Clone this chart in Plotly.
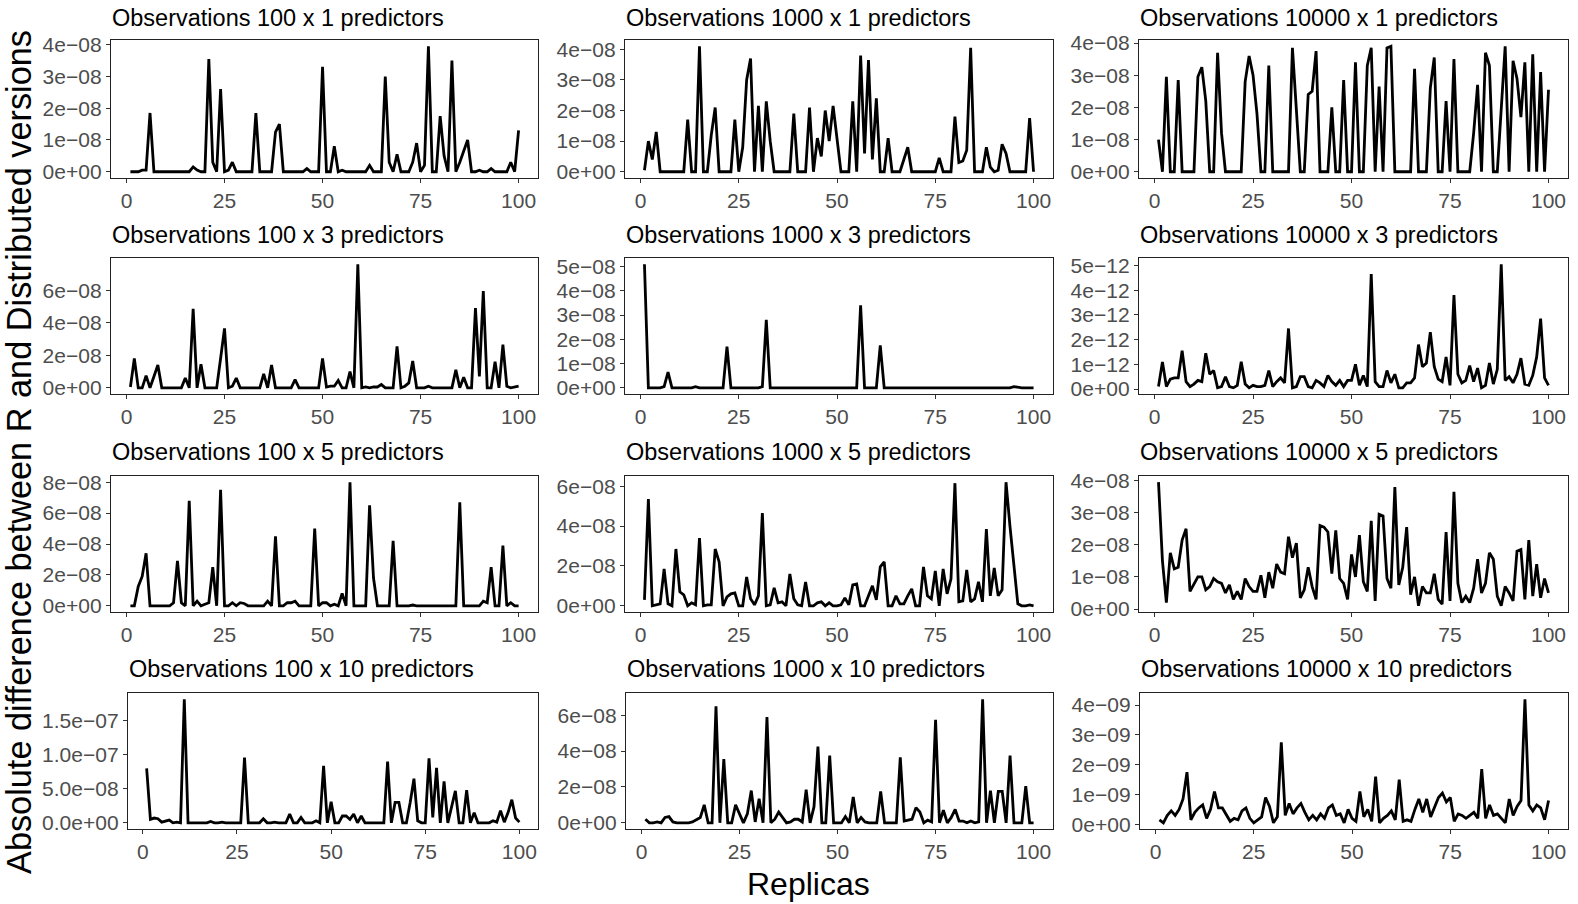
import plotly.graph_objects as go

replicas = list(range(1, 101))

# values are in units of 10^exponent (see UNIT_EXP)
obs100_p1 = [0,0,0,0.05,0.05,1.85,0,0,0,0,
             0,0,0,0,0,0,0.15,0.05,0,0,
             3.55,0.3,0,2.6,0,0.05,0.3,0,0,0,
             0,0,1.85,0,0,0,0,1.25,1.5,0,
             0,0,0,0,0,0.1,0,0,0,3.3,
             0,0,0.8,0,0.05,0,0,0,0,0,
             0,0.2,0,0,0,3.0,0.3,0,0.55,0,
             0,0,0.3,0.9,0,0.2,3.95,0,0,1.75,
             0.5,0,3.5,0,0.3,0.65,1.0,0,0,0.05,
             0,0,0.1,0,0,0,0,0.3,0,1.3]
obs1000_p1 = [0.05,1.0,0.4,1.3,0,0,0,0,0,0,
              0,1.7,0,0,4.1,0,0,1.2,2.1,0,
              0,0,0,1.7,0,0.8,3.0,3.7,0,2.15,
              0,2.3,1.0,0,0,0,0,0,1.9,0,
              0,0,2.1,0,1.1,0.5,2.0,1.0,2.15,1.0,
              0,0,0,2.3,0,3.8,0.6,3.65,0.4,2.4,
              0,0,1.1,0,0,0,0.4,0.8,0,0,
              0,0,0,0,0,0.45,0,0,0,1.8,
              0.3,0.35,0.7,4.05,0,0,0,0.8,0.15,0,
              0.05,0.9,0.6,0,0,0,0,0,1.75,0]
obs10000_p1 = [1.0,0,2.95,0,0,2.85,0,0,0,0,
               2.95,3.25,2.2,0,0,3.7,1.2,0,0,0,
               0,0,2.8,3.6,3.0,1.8,0,0,3.3,0,
               0,0,0,0,3.85,2.0,0,0,2.4,2.5,
               3.75,0,0,0,2.0,0,0,2.85,0,0,
               3.4,0,0,3.3,3.85,0,2.65,0,3.85,3.9,
               0,0,0,0,0,3.2,0,0,0,2.6,
               3.55,0,0,2.2,0,3.5,0,0,0,0,
               1.2,2.7,0,3.7,3.3,0,0,1.8,3.9,0,
               3.45,2.9,1.7,3.4,0,3.65,0,3.1,0,2.55]
obs100_p3 = [0.05,1.8,0,0,0.75,0,0.7,1.4,0,0,
             0,0,0,0,0.6,0,4.85,0,1.45,0,
             0,0,0,1.8,3.65,0,0.1,0.6,0,0,
             0,0,0,0,0.85,0,1.4,0,0,0,
             0,0,0.5,0,0,0,0,0,0,1.8,
             0.05,0.1,0.1,0.45,0,0,1.0,0,7.6,0,
             0.05,0,0.05,0.05,0.2,0,0,0,2.55,0,
             0.1,0.3,1.65,0,0,0,0.1,0,0,0,
             0,0,0,1.1,0,0.65,0,0,4.9,0.7,
             5.95,0,0,1.6,0,2.65,0.1,0,0.05,0.1]
obs1000_p3 = [5.1,0,0,0,0,0.05,0.65,0,0,0,
              0,0,0,0.05,0,0,0,0,0,0,
              0,1.7,0,0,0,0,0,0.02,0,0,
              0.05,2.8,0,0,0,0,0,0,0,0,
              0,0,0,0.02,0,0,0,0,0,0,
              0,0,0,0,0,3.4,0,0,0,0,
              1.75,0,0,0,0,0,0,0,0,0,
              0,0,0,0,0,0,0,0,0,0,
              0,0,0,0,0,0,0,0,0,0,
              0,0,0,0,0.05,0.02,0,0,0,0]
obs10000_p3 = [0.1,1.1,0.1,0.4,0.45,0.45,1.55,0.3,0.1,0.2,
               0.35,0.3,1.45,0.6,0.75,0.05,0.1,0.5,0.1,0.05,
               0.15,1.1,0.2,0.05,0.15,0.1,0.1,0.15,0.75,0.1,
               0.3,0.45,0.25,2.45,0.05,0.1,0.5,0.5,0.1,0.05,
               0.35,0.25,0.1,0.55,0.3,0.15,0.35,0.1,0.35,0.35,
               1.0,0.15,0.55,0.1,4.65,0.3,0.1,0.1,0.75,0.25,
               0.6,0.05,0.05,0.25,0.25,0.45,1.8,0.9,1.05,2.3,
               0.9,0.4,0.3,1.3,0.15,3.8,0.6,0.25,0.35,0.95,
               0.3,0.85,0.05,0.15,1.05,0.2,0.8,5.05,0.35,0.5,
               0.25,0.6,1.25,0.2,0.15,0.55,1.3,2.85,0.45,0.15]
obs100_p5 = [0,0,1.25,1.9,3.4,0,0,0,0,0,
             0,0.2,2.9,0.2,0,6.8,0,0.3,0,0.1,
             0.2,2.5,0,7.5,0,0,0.2,0,0.2,0.15,
             0,0,0,0,0,0.3,0,4.5,0,0,
             0.2,0.2,0.3,0,0,0,0,5.0,0,0.2,
             0.2,0,0.1,0,0.8,0,8.0,0,0,0,
             0,6.5,1.8,0,0,0,0,4.2,0,0,
             0,0,0.05,0,0,0,0,0,0,0,
             0,0,0,0,6.7,0,0,0,0,0,
             0.3,0.2,2.5,0,0,3.9,0,0.2,0,0]
obs1000_p5 = [0.3,5.35,0,0.05,0.1,1.85,0.1,0,2.85,0.7,
              0.55,0,0.15,0.05,3.4,0,0.05,0.05,2.85,2.2,
              0,0.45,0.6,0.65,0,0,1.45,0.35,0.05,0.5,
              4.65,0,0.05,0.9,0.15,0.2,0,1.6,0.35,0.05,
              0,1.2,0,0,0.15,0.2,0,0.15,0,0,
              0.05,0.4,0.05,1.05,1.1,0,0,0.5,1.0,0.3,
              1.95,2.2,0,0,0.5,0.1,0.1,0.5,0.85,0,
              0,1.95,0.5,0.35,1.75,0,1.85,0.6,1.35,6.15,
              0.2,0.25,1.8,0.2,0.35,1.2,0.2,3.85,0.5,1.9,
              0.5,0.8,6.2,4.0,1.9,0.1,0,0,0.05,0]
obs10000_p5 = [3.95,1.5,0.2,1.75,1.25,1.3,2.15,2.5,0.55,0.8,
               1.0,1.0,0.6,0.7,0.95,0.85,0.8,0.5,0.75,0.3,
               0.55,0.3,0.95,0.7,0.55,0.55,1.05,0.35,1.15,0.65,
               1.4,1.15,1.1,2.25,1.6,2.05,0.35,0.6,1.3,0.7,
               0.3,2.6,2.55,2.4,1.1,2.45,0.95,0.8,0.3,1.7,
               1.0,2.3,0.85,0.55,2.75,0.25,2.95,2.9,0.95,0.65,
               3.8,0.75,1.3,2.55,0.45,1.0,0.1,0.7,0.5,0.5,
               1.1,0.3,0.15,2.4,0.25,3.65,0.8,0.2,0.4,0.2,
               0.65,1.55,0.5,0.8,1.75,1.55,0.4,0.1,0.7,0.5,
               0.25,1.8,1.85,0.3,2.15,0.4,1.4,0.35,0.95,0.5]
obs100_p10 = [8.0,0.5,0.7,0.6,0.1,0.2,0.4,0,0.1,0,
              18.2,0,0,0,0,0,0,0.2,0,0,
              0.1,0,0,0,0,0,9.6,0,0,0,
              0,0.6,0,0,0.1,0,0,0,1.3,0,
              0,0.8,0,0,0,0.3,0,8.4,0,3.1,
              0,0,1.0,1.0,0.5,1.3,0,1.0,0,0,
              0,0,0,0,9.0,0,3.0,3.0,0,0,
              3.0,6.5,0.3,0,0,9.5,0.8,8.1,0,6.1,
              0,2.5,4.7,0,0,4.8,0,1.5,0,0,
              0,0,0.3,0.1,1.8,0.1,1.5,3.4,0.7,0.1]
obs1000_p10 = [0.2,0,0,0.05,0,0.3,0.35,0.05,0,0,
               0,0,0.05,0.2,0.3,1.0,0,0,6.5,0,
               3.55,0,0,1.0,0.5,0,0.5,1.8,0.05,1.35,
               0,5.9,0,0.2,0.6,0.3,0,0.05,0.2,0.2,
               0.05,1.85,0,0.9,4.25,0,0,3.75,0,0,
               0,0.35,0,1.45,0,0.3,0.05,0,0,0,
               1.75,0,0,0,0,3.65,0.1,0.15,0.2,0.85,
               0.6,0,0.15,0.05,5.75,0,0.7,0,0.3,0.75,
               0.1,0.1,0,0.1,0,0.05,6.9,0,1.8,0,
               1.75,1.75,0,3.75,0,0,0,2.05,0,0]
obs10000_p10 = [0.15,0.05,0.3,0.45,0.3,0.5,0.85,1.75,0.15,0.4,
                0.55,0.65,0.2,0.5,1.1,0.55,0.55,0.3,0.1,0.2,
                0.15,0.45,0.55,0.2,0.05,0.15,0.25,0.9,0.6,0.05,
                0.25,2.75,0.3,0.7,0.35,0.55,0.7,0.4,0.15,0.3,
                0.15,0.35,0.2,0.55,0.65,0.3,0.35,0.05,0.5,0.2,
                0.1,1.1,0.25,0.5,0.1,1.6,0.05,0.2,0.3,0.45,
                0.15,1.5,0.1,0.15,0.1,0.5,0.85,0.4,0.85,0.25,
                0.6,0.9,1.05,0.75,0.9,0.1,0.35,0.3,0.2,0.3,
                0.4,0.2,1.85,0.2,0.65,0.3,0.35,0.2,0.05,0.85,
                0.3,0.6,0.8,4.2,0.65,0.45,0.65,0.55,0.15,0.8]

titles = ["Observations 100 x 1 predictors", "Observations 1000 x 1 predictors", "Observations 10000 x 1 predictors",
          "Observations 100 x 3 predictors", "Observations 1000 x 3 predictors", "Observations 10000 x 3 predictors",
          "Observations 100 x 5 predictors", "Observations 1000 x 5 predictors", "Observations 10000 x 5 predictors",
          "Observations 100 x 10 predictors", "Observations 1000 x 10 predictors", "Observations 10000 x 10 predictors"]
series = [obs100_p1, obs1000_p1, obs10000_p1,
          obs100_p3, obs1000_p3, obs10000_p3,
          obs100_p5, obs1000_p5, obs10000_p5,
          obs100_p10, obs1000_p10, obs10000_p10]
UNIT_EXP = [-8, -8, -8, -8, -8, -12, -8, -8, -8, -8, -8, -9]

ytick_vals = [[0, 1, 2, 3, 4], [0, 1, 2, 3, 4], [0, 1, 2, 3, 4],
              [0, 2, 4, 6], [0, 1, 2, 3, 4, 5], [0, 1, 2, 3, 4, 5],
              [0, 2, 4, 6, 8], [0, 2, 4, 6], [0, 1, 2, 3, 4],
              [0, 5, 10, 15], [0, 2, 4, 6], [0, 1, 2, 3, 4]]
ytick_text = [["0e+00", "1e−08", "2e−08", "3e−08", "4e−08"],
              ["0e+00", "1e−08", "2e−08", "3e−08", "4e−08"],
              ["0e+00", "1e−08", "2e−08", "3e−08", "4e−08"],
              ["0e+00", "2e−08", "4e−08", "6e−08"],
              ["0e+00", "1e−08", "2e−08", "3e−08", "4e−08", "5e−08"],
              ["0e+00", "1e−12", "2e−12", "3e−12", "4e−12", "5e−12"],
              ["0e+00", "2e−08", "4e−08", "6e−08", "8e−08"],
              ["0e+00", "2e−08", "4e−08", "6e−08"],
              ["0e+00", "1e−08", "2e−08", "3e−08", "4e−08"],
              ["0.0e+00", "5.0e−08", "1.0e−07", "1.5e−07"],
              ["0e+00", "2e−08", "4e−08", "6e−08"],
              ["0e+00", "1e−09", "2e−09", "3e−09", "4e−09"]]
xtick_vals = [0, 25, 50, 75, 100]

# layout (pixel positions of each panel)
W, H = 1578, 904
col_left = [[111, 625, 1139], [111, 625, 1139], [111, 625, 1139], [128, 626, 1140]]
col_right = [538, 1053, 1568]
row_top = [40, 258, 476, 693]
row_bot = [178, 394, 612, 829]
title_y = [18, 235, 452, 669]

FONT = "Liberation Sans, Arial, Helvetica, sans-serif"
fig = go.Figure()
annotations = []
for i, (vals, title) in enumerate(zip(series, titles)):
    r, c = divmod(i, 3)
    k = "" if i == 0 else str(i + 1)
    scale = 10.0 ** UNIT_EXP[i]
    y = [v * scale for v in vals]
    fig.add_trace(go.Scatter(x=replicas, y=y, mode="lines",
                             line=dict(color="black", width=2.8),
                             xaxis="x" + k, yaxis="y" + k, showlegend=False,
                             hoverinfo="skip"))
    lo, hi = min(y), max(y)
    pad = 0.05 * (hi - lo)
    xr = 99 * 0.05
    x0 = col_left[r][c] / W
    x1 = col_right[c] / W
    y0 = 1 - row_bot[r] / H
    y1 = 1 - row_top[r] / H
    common = dict(showline=True, linecolor="#222222", linewidth=1.4, mirror=True,
                  ticks="outside", ticklen=4, tickwidth=1.2, tickcolor="#333333",
                  showgrid=False, zeroline=False, automargin=False,
                  tickfont=dict(family=FONT, size=21, color="#4D4D4D"))
    fig.layout["xaxis" + k] = dict(domain=[x0, x1], anchor="y" + k, range=[1 - xr, 100 + xr],
                                   tickvals=xtick_vals, **common)
    fig.layout["yaxis" + k] = dict(domain=[y0, y1], anchor="x" + k, range=[lo - pad, hi + pad],
                                   tickvals=[t * scale for t in ytick_vals[i]],
                                   ticktext=ytick_text[i], **common)
    annotations.append(dict(text=title, x=x0 - 1 / W, y=1 - title_y[r] / H, xref="paper", yref="paper",
                            xanchor="left", yanchor="middle", showarrow=False,
                            font=dict(family=FONT, size=23.5, color="black")))

annotations.append(dict(text="Replicas", x=808 / W, y=1 - 884 / H, xref="paper", yref="paper",
                        xanchor="center", yanchor="middle", showarrow=False,
                        font=dict(family=FONT, size=32, color="black")))
annotations.append(dict(text="Absolute difference between R and Distributed versions", x=19 / W, y=1 - 452 / H,
                        xref="paper", yref="paper", xanchor="center", yanchor="middle", textangle=-90,
                        showarrow=False, font=dict(family=FONT, size=34.3, color="black")))

fig.update_layout(template="none", width=W, height=H, margin=dict(l=0, r=0, t=0, b=0, autoexpand=False),
                  paper_bgcolor="white", plot_bgcolor="white", annotations=annotations)
fig.write_html("out.html", config={"displayModeBar": False},
               post_script="document.body.style.margin='0';document.body.style.overflow='hidden';")
